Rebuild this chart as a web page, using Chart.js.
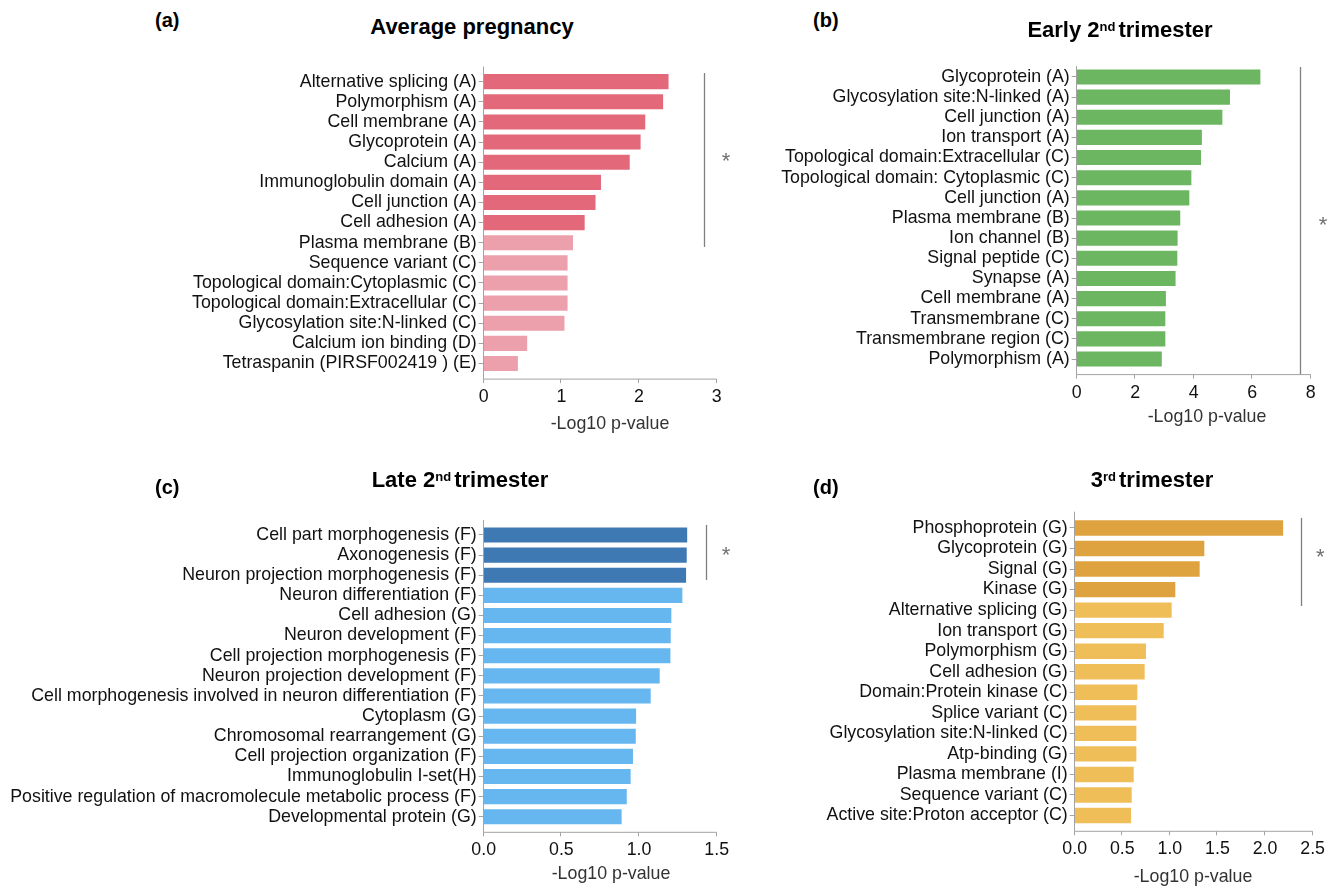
<!DOCTYPE html>
<html><head><meta charset="utf-8">
<script src="https://cdn.jsdelivr.net/npm/chart.js@4.4.1/dist/chart.umd.min.js"></script>
<style>
html,body{margin:0;padding:0;background:#fff;}
body{width:1338px;height:890px;position:relative;overflow:hidden;font-family:"Liberation Sans",Arial,Helvetica,sans-serif;color:#000;}
canvas{position:absolute;}
.lbl{position:absolute;font-weight:bold;font-size:20px;line-height:24px;white-space:nowrap;}
.ttl{position:absolute;font-weight:bold;font-size:22px;line-height:26px;white-space:nowrap;transform:translateX(-50%);}
.ttl .s{font-size:13px;vertical-align:6px;margin-right:3px;}
.xt{position:absolute;font-size:17.8px;line-height:21px;color:#333;white-space:nowrap;transform:translateX(-50%);}
</style>
</head><body>
<canvas id="ca" width="760" height="400" style="left:0;top:40px"></canvas>
<canvas id="cb" width="578" height="400" style="left:760px;top:40px"></canvas>
<canvas id="cc" width="760" height="400" style="left:0;top:490px"></canvas>
<canvas id="cd" width="578" height="400" style="left:760px;top:490px"></canvas>

<div class="lbl" style="left:155px;top:8px">(a)</div>
<div class="lbl" style="left:813px;top:8px">(b)</div>
<div class="lbl" style="left:155px;top:475px">(c)</div>
<div class="lbl" style="left:813px;top:475px">(d)</div>

<div class="ttl" style="left:472px;top:14px">Average pregnancy</div>
<div class="ttl" style="left:1120px;top:14px">Early 2<span class="s">nd</span>trimester</div>
<div class="ttl" style="left:460px;top:464px">Late 2<span class="s">nd</span>trimester</div>
<div class="ttl" style="left:1152px;top:464px">3<span class="s">rd</span>trimester</div>

<div class="xt" style="left:610px;top:413px">-Log10 p-value</div>
<div class="xt" style="left:1207px;top:406px">-Log10 p-value</div>
<div class="xt" style="left:611px;top:863px">-Log10 p-value</div>
<div class="xt" style="left:1193px;top:866px">-Log10 p-value</div>

<script>
// ---------------- data ----------------
const labelsA = ["Alternative splicing (A)","Polymorphism (A)","Cell membrane (A)","Glycoprotein (A)","Calcium (A)","Immunoglobulin domain (A)","Cell junction (A)","Cell adhesion (A)","Plasma membrane (B)","Sequence variant (C)","Topological domain:Cytoplasmic (C)","Topological domain:Extracellular (C)","Glycosylation site:N-linked (C)","Calcium ion binding (D)","Tetraspanin (PIRSF002419 ) (E)"];
const valuesA = [2.38,2.31,2.08,2.02,1.88,1.51,1.44,1.30,1.15,1.08,1.08,1.08,1.04,0.56,0.44];
const highlightA = 8;
const sigA = {x:2.84, from:-0.43, to:8.21, starX:3.12, starY:3.74};
const ticksA = {max:3, step:1, decimals:0};

const labelsB = ["Glycoprotein (A)","Glycosylation site:N-linked (A)","Cell junction (A)","Ion transport (A)","Topological domain:Extracellular (C)","Topological domain: Cytoplasmic (C)","Cell junction (A)","Plasma membrane (B)","Ion channel (B)","Signal peptide (C)","Synapse (A)","Cell membrane (A)","Transmembrane (C)","Transmembrane region (C)","Polymorphism (A)"];
const valuesB = [6.28,5.24,4.98,4.28,4.25,3.92,3.85,3.54,3.45,3.44,3.38,3.05,3.03,3.03,2.91];
const highlightB = 15;
const sigB = {x:7.64, from:-0.5, to:14.75, starX:8.42, starY:7.15};
const ticksB = {max:8, step:2, decimals:0};

const labelsC = ["Cell part morphogenesis (F)","Axonogenesis (F)","Neuron projection morphogenesis (F)","Neuron differentiation (F)","Cell adhesion (G)","Neuron development (F)","Cell projection morphogenesis (F)","Neuron projection development (F)","Cell morphogenesis involved in neuron differentiation (F)","Cytoplasm (G)","Chromosomal rearrangement (G)","Cell projection organization (F)","Immunoglobulin I-set(H)","Positive regulation of macromolecule metabolic process (F)","Developmental protein (G)"];
const valuesC = [1.310,1.307,1.303,1.279,1.208,1.204,1.202,1.133,1.075,0.981,0.979,0.961,0.946,0.921,0.888];
const highlightC = 3;
const sigC = {x:1.433, from:-0.5, to:2.24, starX:1.56, starY:0.78};
const ticksC = {max:1.5, step:0.5, decimals:1};

const labelsD = ["Phosphoprotein (G)","Glycoprotein (G)","Signal (G)","Kinase (G)","Alternative splicing (G)","Ion transport (G)","Polymorphism (G)","Cell adhesion (G)","Domain:Protein kinase (C)","Splice variant (C)","Glycosylation site:N-linked (C)","Atp-binding (G)","Plasma membrane (I)","Sequence variant (C)","Active site:Proton acceptor (C)"];
const valuesD = [2.19,1.362,1.313,1.057,1.019,0.935,0.749,0.735,0.658,0.648,0.648,0.648,0.620,0.599,0.592];
const highlightD = 4;
const sigD = {x:2.374, from:-0.49, to:3.8, starX:2.58, starY:1.22};
const ticksD = {max:2.5, step:0.5, decimals:1};

// ---------------- style ----------------
const FONT = "'Liberation Sans', Arial, Helvetica, sans-serif";
const AXIS = '#a3a3a3';
const SIGCOL = '#808080';
const GAP = 5;

const axisPlugin = {
  id: 'axisDeco',
  afterDraw(chart, args, o) {
    const ctx = chart.ctx, ca = chart.chartArea;
    const xs = chart.scales.x, ys = chart.scales.y;
    ctx.save();
    ctx.strokeStyle = AXIS; ctx.lineWidth = 1;
    const yAxis = ca.bottom + GAP + 0.5;
    const lx = Math.round(ca.left) - 0.5;
    // y axis extension
    ctx.beginPath();
    ctx.moveTo(lx, ca.top - o.topExt);
    ctx.lineTo(lx, yAxis);
    ctx.stroke();
    // x axis line
    ctx.beginPath();
    ctx.moveTo(lx, yAxis);
    ctx.lineTo(xs.getPixelForValue(xs.max), yAxis);
    ctx.stroke();
    // x tick marks
    xs.ticks.forEach(t => {
      const px = Math.round(xs.getPixelForValue(t.value)) - 0.5;
      ctx.beginPath(); ctx.moveTo(px, yAxis); ctx.lineTo(px, yAxis + 4); ctx.stroke();
    });
    // significance bracket
    const s = o.sig;
    const sx = Math.round(xs.getPixelForValue(s.x)) + 0.5;
    ctx.strokeStyle = SIGCOL; ctx.lineWidth = 1.3;
    ctx.beginPath();
    ctx.moveTo(sx, ys.getPixelForValue(s.from));
    ctx.lineTo(sx, Math.min(ys.getPixelForValue(s.to), yAxis));
    ctx.stroke();
    ctx.fillStyle = '#707070';
    ctx.font = '22px ' + FONT;
    ctx.textAlign = 'center'; ctx.textBaseline = 'middle';
    ctx.fillText('*', xs.getPixelForValue(s.starX), ys.getPixelForValue(s.starY) + 5);
    ctx.restore();
  }
};

function makeChart(id, labels, values, highlight, dark, light, sig, tk, geo) {
  const colors = values.map((v, i) => i < highlight ? dark : light);
  return new Chart(document.getElementById(id), {
    type: 'bar',
    data: { labels: labels, datasets: [{ data: values, backgroundColor: colors, borderWidth: 0, barPercentage: 0.75, categoryPercentage: 1.0 }] },
    plugins: [axisPlugin],
    options: {
      indexAxis: 'y',
      responsive: false,
      animation: false,
      events: [],
      layout: { padding: { left: 0, right: geo.padRight, top: geo.top, bottom: 0 } },
      plugins: { legend: { display: false }, tooltip: { enabled: false }, title: { display: false },
        axisDeco: { sig: sig, topExt: geo.topExt } },
      scales: {
        x: {
          type: 'linear', min: 0, max: tk.max,
          border: { display: false },
          grid: { display: false, drawTicks: false },
          ticks: { stepSize: tk.step, color: '#111', padding: 13, font: { family: FONT, size: 17.8 },
                   callback: v => Number(v).toFixed(tk.decimals) },
          afterFit: sc => { sc.height = geo.xHeight; }
        },
        y: {
          border: { display: true, color: AXIS, width: 1 },
          grid: { display: true, drawOnChartArea: false, offset: false, color: AXIS, tickLength: 5, drawTicks: true },
          ticks: { color: '#111', padding: 2, autoSkip: false, font: { family: FONT, size: 17.8 } },
          afterFit: sc => { sc.width = geo.left; }
        }
      }
    }
  });
}

makeChart('ca', labelsA, valuesA, highlightA, '#e2687a', '#eca0ab', sigA, ticksA,
  { left: 483.7, padRight: 43.3, top: 31.6, xHeight: 66.4, topExt: 5 });
makeChart('cb', labelsB, valuesB, highlightB, '#6cb662', '#6cb662', sigB, ticksB,
  { left: 316.7, padRight: 27.3, top: 26.9, xHeight: 70.9, topExt: 0 });
makeChart('cc', labelsC, valuesC, highlightC, '#3e79b3', '#66b6f0', sigC, ticksC,
  { left: 483.7, padRight: 43.3, top: 34.9, xHeight: 63.2, topExt: 5 });
makeChart('cd', labelsD, valuesD, highlightD, '#dea33f', '#f0be58', sigD, ticksD,
  { left: 314.7, padRight: 25.3, top: 27.7, xHeight: 64.2, topExt: 6 });
</script>
</body></html>
